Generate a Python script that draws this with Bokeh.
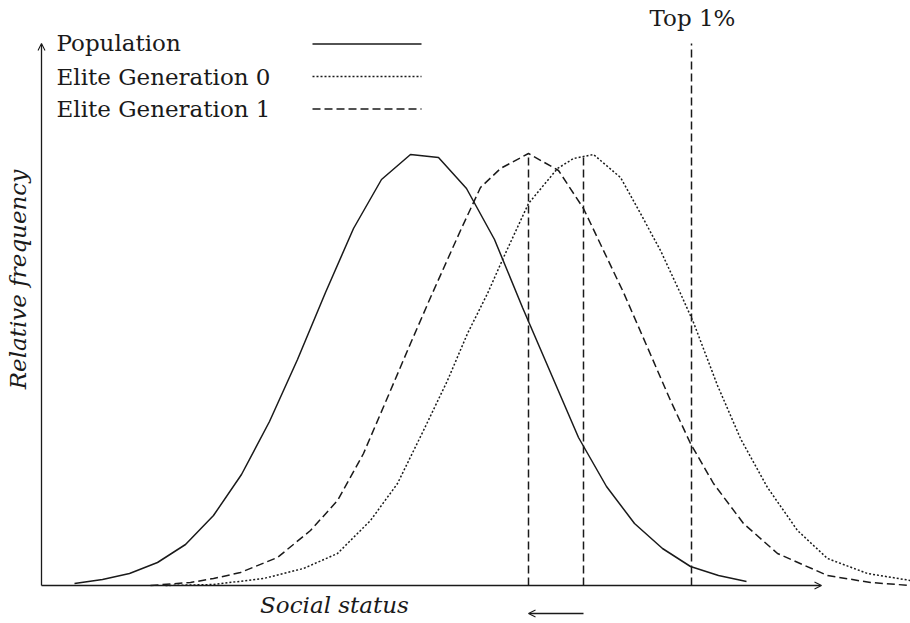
from math import pi

from bokeh.embed import file_html
from bokeh.models import Arrow, Label, OpenHead, Range1d
from bokeh.plotting import figure
from bokeh.resources import INLINE

# social status (arbitrary units) and relative frequency (arbitrary units)
pop_status = [33, 61, 88, 116, 144, 172, 200, 228, 256, 284, 312, 340, 369,
              397, 425, 453, 481, 509, 537, 565, 593, 621, 649, 677, 705]
pop_freq = [2, 6, 12, 23, 41, 70, 111, 164, 226, 293, 357, 406, 431,
            428, 397, 346, 278, 213, 148, 99, 62, 37, 19, 10, 4]

gen0_status = [124, 172, 222, 262, 296, 329, 356, 382, 406, 426, 446, 462, 487, 516,
               532, 552, 579, 599, 619, 639, 652, 676, 699, 726, 756, 786, 826, 869]
gen0_freq = [0, 1, 7, 17, 32, 65, 102, 155, 205, 252, 292, 328, 382, 417,
             427, 431, 408, 372, 335, 292, 263, 200, 147, 98, 55, 27, 12, 5]

gen1_status = [109, 149, 172, 199, 236, 269, 296, 322, 346, 369, 389, 419, 439, 459,
               487, 517, 542, 582, 606, 629, 649, 672, 702, 736, 786, 829, 869]
gen1_freq = [0, 3, 7, 13, 28, 55, 85, 132, 188, 242, 288, 355, 398, 417,
             432, 415, 377, 293, 238, 185, 142, 102, 62, 32, 10, 3, 0]

# markers: elite means and the top 1% threshold
gen1_mean, gen1_peak = 487, 432
gen0_mean, gen0_peak = 542, 432
top1_cut, top1_height = 650, 542

series_names = ["Population", "Elite Generation 0", "Elite Generation 1"]

FONT = "DejaVu Serif"
FS = "23px"
INK = "#1a1a1a"
DASH = "8 4"
DOT = "2 2"
LW = 1.5

p = figure(width=910, height=623, output_backend="svg", toolbar_location=None,
           tools="", min_border=0, x_range=Range1d(-41, 869), y_range=Range1d(-38, 585))
p.axis.visible = False
p.grid.visible = False
p.outline_line_color = None
p.background_fill_color = "white"

# curves
p.line(pop_status, pop_freq, line_color=INK, line_width=LW)
p.line(gen0_status, gen0_freq, line_color=INK, line_width=LW, line_dash=DOT)
p.line(gen1_status, gen1_freq, line_color=INK, line_width=LW, line_dash=DASH)

# vertical markers
p.segment(x0=[gen1_mean, gen0_mean, top1_cut], y0=[0, 0, 0],
          x1=[gen1_mean, gen0_mean, top1_cut], y1=[gen1_peak, gen0_peak, top1_height],
          line_color=INK, line_width=LW, line_dash=DASH)

# axes with arrow heads
p.add_layout(Arrow(end=OpenHead(size=7, line_width=1.1, line_color=INK),
                   x_start=0, y_start=0, x_end=0, y_end=542,
                   line_color=INK, line_width=1.3))
p.add_layout(Arrow(end=OpenHead(size=7, line_width=1.1, line_color=INK),
                   x_start=0, y_start=0, x_end=780, y_end=0,
                   line_color=INK, line_width=1.3))
# shift from generation 0 to generation 1
p.add_layout(Arrow(end=OpenHead(size=7, line_width=1.1, line_color=INK),
                   x_start=gen0_mean, y_start=-28, x_end=gen1_mean, y_end=-28,
                   line_color=INK, line_width=1.3))

# legend (labels left, keys right)
key_y = [541.5, 509, 476.5]
text_y = [543, 509, 477]
dashes = ["solid", DOT, DASH]
for name, ky, ty, d in zip(series_names, key_y, text_y, dashes):
    p.segment(x0=[271], y0=[ky], x1=[380], y1=[ky], line_color=INK,
              line_width=LW, line_dash=d)
    p.add_layout(Label(x=15, y=ty, text=name, text_font=FONT, text_font_size=FS,
                       text_color=INK, text_baseline="alphabetic", text_align="left"))

p.add_layout(Label(x=651, y=568, text="Top 1%", text_font=FONT, text_font_size=FS,
                   text_color=INK, text_baseline="alphabetic", text_align="center"))
p.add_layout(Label(x=293, y=-19, text="Social status", text_font=FONT, text_font_size=FS,
                   text_font_style="italic", text_color=INK,
                   text_baseline="alphabetic", text_align="center"))
p.add_layout(Label(x=-24, y=306, text="Relative frequency", angle=pi / 2,
                   text_font=FONT, text_font_size=FS, text_font_style="italic",
                   text_color=INK, text_baseline="alphabetic", text_align="center"))

open("out.html", "w").write(file_html(p, INLINE))
